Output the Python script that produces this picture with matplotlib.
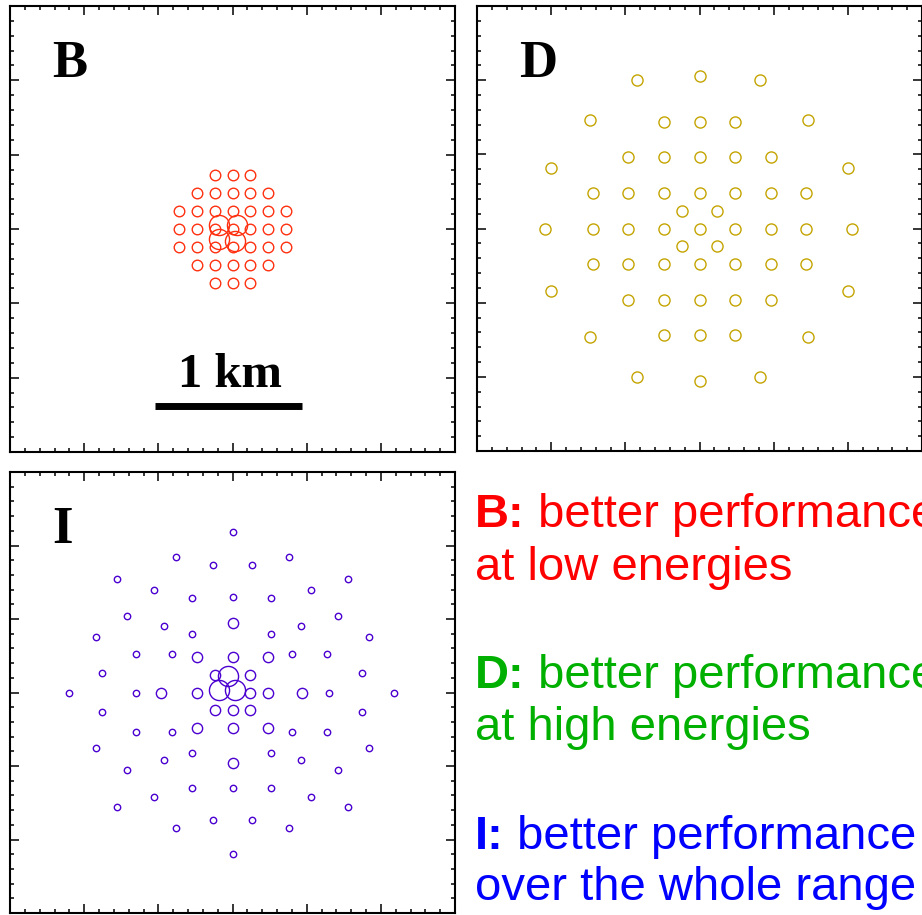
import matplotlib
matplotlib.use("Agg")
import matplotlib.pyplot as plt
from matplotlib.ticker import MultipleLocator

# telescope positions in km
b_small_x = [-0.12, 0, 0.12,
             -0.24, -0.12, 0, 0.12, 0.24,
             -0.36, -0.24, -0.12, 0, 0.12, 0.24, 0.36,
             -0.36, -0.24, -0.12, 0, 0.12, 0.24, 0.36,
             -0.36, -0.24, -0.12, 0, 0.12, 0.24, 0.36,
             -0.24, -0.12, 0, 0.12, 0.24,
             -0.12, 0, 0.12]
b_small_y = [0.36, 0.36, 0.36,
             0.24, 0.24, 0.24, 0.24, 0.24,
             0.12, 0.12, 0.12, 0.12, 0.12, 0.12, 0.12,
             0, 0, 0, 0, 0, 0, 0,
             -0.12, -0.12, -0.12, -0.12, -0.12, -0.12, -0.12,
             -0.24, -0.24, -0.24, -0.24, -0.24,
             -0.36, -0.36, -0.36]
b_large_x = [-0.09, 0.03, -0.09, 0.02]
b_large_y = [0.03, 0.03, -0.07, -0.08]

d_x = [-0.24, 0, 0.24,
       -0.48, -0.24, 0, 0.24, 0.48,
       -0.72, -0.48, -0.24, 0, 0.24, 0.48, 0.72,
       -0.72, -0.48, -0.24, 0, 0.24, 0.48, 0.72,
       -0.72, -0.48, -0.24, 0, 0.24, 0.48, 0.72,
       -0.48, -0.24, 0, 0.24, 0.48,
       -0.24, 0, 0.24,
       -0.12, 0.12, -0.12, 0.12,
       0, -0.42, 0.41, -0.74, 0.73, -1.0, 1.0, -1.04, 1.03,
       -1.0, 1.0, -0.74, 0.73, -0.42, 0, 0.41]
d_y = [0.72, 0.72, 0.72,
       0.48, 0.48, 0.48, 0.48, 0.48,
       0.24, 0.24, 0.24, 0.24, 0.24, 0.24, 0.24,
       0, 0, 0, 0, 0, 0, 0,
       -0.24, -0.24, -0.24, -0.24, -0.24, -0.24, -0.24,
       -0.48, -0.48, -0.48, -0.48, -0.48,
       -0.72, -0.72, -0.72,
       0.12, 0.12, -0.12, -0.12,
       1.03, 1.0, 1.0, 0.73, 0.73, 0.41, 0.41, 0, 0,
       -0.42, -0.42, -0.73, -0.73, -1.0, -1.03, -1.0]

i_small_x = [0, -0.38, 0.38, -0.13, 0.13, -0.78, 0.78, -0.53, 0.53,
             -0.27, 0, 0.26, -0.71, 0.71, -0.46, 0.46, -0.92, 0.92,
             -0.27, 0.26, -0.65, -0.41, 0.40, 0.64, -0.88, 0.87,
             -1.10, -0.65, 0.65, 1.09,
             -0.88, 0.87, -0.65, -0.41, 0.40, 0.64, -0.92, 0.92,
             -0.27, 0.26, -0.46, 0.46, -0.71, 0.71, -0.27, 0, 0.26,
             -0.53, 0.53, -0.78, 0.78, -0.13, 0.13, -0.38, 0.38, 0]
i_small_y = [1.09, 0.92, 0.92, 0.87, 0.87, 0.77, 0.77, 0.70, 0.70,
             0.64, 0.65, 0.64, 0.52, 0.52, 0.45, 0.45, 0.38, 0.38,
             0.40, 0.40, 0.26, 0.26, 0.26, 0.26, 0.13, 0.13,
             0, 0, 0, 0,
             -0.13, -0.13, -0.27, -0.27, -0.27, -0.27, -0.38, -0.38,
             -0.41, -0.41, -0.46, -0.46, -0.53, -0.53, -0.65, -0.65, -0.65,
             -0.71, -0.71, -0.78, -0.78, -0.87, -0.87, -0.92, -0.92, -1.10]
i_mid_x = [0, -0.24, 0, 0.24, -0.12, 0.12,
           -0.48, -0.24, 0.12, 0.24, 0.47,
           -0.12, 0, 0.12, -0.24, 0, 0.24, 0]
i_mid_y = [0.47, 0.24, 0.24, 0.24, 0.12, 0.12,
           0, 0, 0, 0, 0,
           -0.12, -0.12, -0.12, -0.24, -0.24, -0.24, -0.48]
i_large_x = [-0.03, -0.09, 0.02]
i_large_y = [0.11, 0.02, 0.02]

W, H = 922, 915
fig = plt.figure(figsize=(W / 100, H / 100), dpi=100)


def frame(rect, label):
    ax = fig.add_axes(rect)
    ax.set_xlim(-1.5, 1.5)
    ax.set_ylim(-1.5, 1.5)
    for a in (ax.xaxis, ax.yaxis):
        a.set_major_locator(MultipleLocator(0.5))
        a.set_minor_locator(MultipleLocator(0.1))
    ax.tick_params(which='both', direction='in', top=True, right=True,
                   labelbottom=False, labelleft=False, width=1.1)
    ax.tick_params(which='major', length=6.5)
    ax.tick_params(which='minor', length=3.2)
    for s in ax.spines.values():
        s.set_linewidth(1.5)
    ax.text(0.094, 0.84, label, transform=ax.transAxes, fontsize=38,
            fontweight='bold', family='Liberation Serif', va='baseline')
    return ax


def rings(ax, x, y, size, color):
    ax.plot(x, y, 'o', ls='none', ms=size, mfc='none', mec=color, mew=1.0)


ax_b = frame([10 / W, 1 - 452 / H, 445 / W, 446 / H], 'B')
rings(ax_b, b_small_x, b_small_y, 7.6, '#ff3010')
rings(ax_b, b_large_x, b_large_y, 14.5, '#ff3010')
ax_b.plot([-0.52, 0.47], [-1.19, -1.19], color='black', lw=5,
          solid_capstyle='butt')
ax_b.text(-0.02, -1.065, '1 km', ha='center', va='baseline', fontsize=35,
          fontweight='bold', family='Liberation Serif')

ax_d = frame([477 / W, 1 - 451 / H, 445 / W, 445 / H], 'D')
rings(ax_d, d_x, d_y, 8.0, '#c4a400')

ax_i = frame([10 / W, 1 - 913 / H, 445 / W, 441 / H], 'I')
rings(ax_i, i_small_x, i_small_y, 4.6, '#4a00d0')
rings(ax_i, i_mid_x, i_mid_y, 7.4, '#4a00d0')
rings(ax_i, i_large_x, i_large_y, 14.5, '#4a00d0')

notes = [('B:', 'better performance', 'at low energies', '#ff0000', 527, 580),
         ('D:', 'better performance', 'at high energies', '#00b000', 688, 740),
         ('I:', 'better performance', 'over the whole range', '#0000ff', 849, 900)]
fs = 34
for head, rest, line2, col, y1, y2 in notes:
    t = fig.text(475 / W, 1 - y1 / H, head, fontsize=fs, fontweight='bold',
                 family='Liberation Sans', color=col, va='baseline')
    fig.add_artist(plt.Annotation(' ' + rest, xy=(1, 0), xycoords=t,
                                  fontsize=fs, family='Liberation Sans',
                                  color=col, va='bottom'))
    fig.text(475 / W, 1 - y2 / H, line2, fontsize=fs,
             family='Liberation Sans', color=col, va='baseline')

fig.savefig('out.png', dpi=100)
